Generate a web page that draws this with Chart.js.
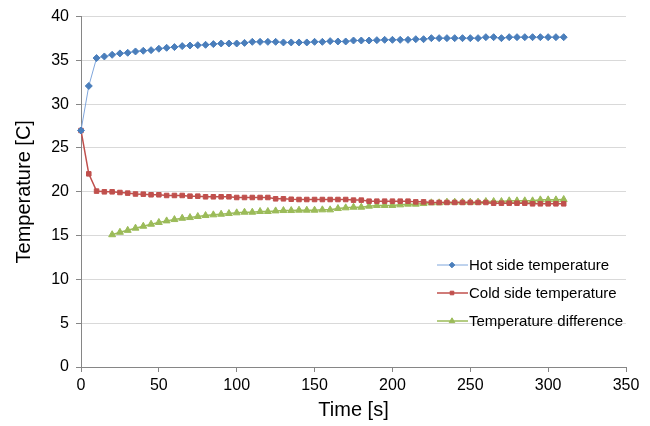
<!DOCTYPE html>
<html>
<head>
<meta charset="utf-8">
<script src="https://cdn.jsdelivr.net/npm/chart.js@4.4.0/dist/chart.umd.min.js"></script>
<style>
  body { margin: 0; background: #fff; }
  #wrap { width: 650px; height: 426px; }
</style>
</head>
<body>
<div id="wrap"><canvas id="tempChart" width="650" height="426"></canvas></div>
<script>
// time in seconds
const times = [
  0, 5, 10, 15, 20, 25, 30, 35, 40, 45,
  50, 55, 60, 65, 70, 75, 80, 85, 90, 95,
  100, 105, 110, 115, 120, 125, 130, 135, 140, 145,
  150, 155, 160, 165, 170, 175, 180, 185, 190, 195,
  200, 205, 210, 215, 220, 225, 230, 235, 240, 245,
  250, 255, 260, 265, 270, 275, 280, 285, 290, 295,
  300, 305, 310
];

const hotSide = [
  27.0, 32.08, 35.27, 35.45, 35.64, 35.8, 35.87, 36.02, 36.1, 36.17,
  36.33, 36.44, 36.52, 36.63, 36.7, 36.74, 36.78, 36.86, 36.93, 36.93,
  36.93, 37.0, 37.12, 37.12, 37.12, 37.12, 37.05, 37.05, 37.05, 37.05,
  37.12, 37.12, 37.2, 37.16, 37.16, 37.27, 37.27, 37.27, 37.31, 37.35,
  37.35, 37.35, 37.35, 37.42, 37.42, 37.54, 37.54, 37.54, 37.54, 37.54,
  37.54, 37.54, 37.65, 37.65, 37.54, 37.65, 37.65, 37.65, 37.65, 37.65,
  37.65, 37.65, 37.65
];

const coldSide = [
  27.0, 22.05, 20.08, 20.0, 20.0, 19.92, 19.85, 19.75, 19.73, 19.66,
  19.66, 19.58, 19.58, 19.58, 19.5, 19.5, 19.43, 19.43, 19.43, 19.43,
  19.35, 19.35, 19.35, 19.35, 19.35, 19.2, 19.2, 19.15, 19.12, 19.12,
  19.12, 19.12, 19.12, 19.12, 19.12, 19.05, 19.05, 18.93, 18.93, 18.93,
  18.93, 18.93, 18.93, 18.85, 18.85, 18.78, 18.78, 18.78, 18.78, 18.78,
  18.78, 18.78, 18.78, 18.7, 18.7, 18.7, 18.7, 18.7, 18.63, 18.63,
  18.63, 18.63, 18.63
];

// difference only logged from 20 s on
const tempDiff = [
  null, null, null, null, 15.1, 15.38, 15.6, 15.85, 16.07, 16.3,
  16.5, 16.68, 16.83, 16.98, 17.06, 17.18, 17.29, 17.37, 17.44, 17.52,
  17.6, 17.67, 17.67, 17.75, 17.75, 17.82, 17.86, 17.86, 17.9, 17.9,
  17.9, 17.94, 17.94, 18.09, 18.17, 18.24, 18.24, 18.36, 18.44, 18.44,
  18.44, 18.51, 18.59, 18.59, 18.66, 18.74, 18.74, 18.82, 18.82, 18.82,
  18.82, 18.82, 18.89, 18.89, 18.89, 18.97, 18.97, 18.97, 18.97, 19.08,
  19.08, 19.08, 19.12
];

const xTicks = [0, 50, 100, 150, 200, 250, 300, 350];
const yTicks = [0, 5, 10, 15, 20, 25, 30, 35, 40];

function toPoints(values) {
  return times.map((t, i) => ({ x: t, y: values[i] }));
}

const seriesInfo = [
  { label: 'Hot side temperature', data: hotSide, line: '#7fa6dc', mark: '#4a7ebb', style: 'rectRot', r: 3.5, lw: 1 },
  { label: 'Cold side temperature', data: coldSide, line: '#c0504d', mark: '#c0504d', style: 'rect', r: 3.2, lw: 1.5 },
  { label: 'Temperature difference', data: tempDiff, line: '#9bbb59', mark: '#9bbb59', style: 'triangle', r: 4, lw: 1.5 }
];

// Legend drawn by hand inside the plot area (like the Excel one)
const insideLegend = {
  id: 'insideLegend',
  afterDraw(chart) {
    const ctx = chart.ctx;
    ctx.save();
    ctx.font = '15px "Liberation Sans", Arial, sans-serif';
    ctx.textBaseline = 'middle';
    ctx.fillStyle = '#000';
    const rows = [265, 293, 321];
    seriesInfo.forEach((s, i) => {
      const y = rows[i];
      ctx.strokeStyle = s.line;
      ctx.lineWidth = s.lw;
      ctx.beginPath();
      ctx.moveTo(437, y);
      ctx.lineTo(468, y);
      ctx.stroke();
      ctx.fillStyle = s.mark;
      ctx.strokeStyle = s.mark;
      ctx.lineWidth = 1;
      Chart.helpers.drawPoint(ctx, { pointStyle: s.style, radius: s.r * 0.8, rotation: 0, borderWidth: 1 }, 452, y);
      ctx.fillStyle = '#000';
      ctx.fillText(s.label, 469, y + 1);
    });
    ctx.restore();
  }
};

const ctx = document.getElementById('tempChart').getContext('2d');
const tickFont = { family: '"Liberation Sans", Arial, sans-serif', size: 16 };
const titleFont = { family: '"Liberation Sans", Arial, sans-serif', size: 20 };

new Chart(ctx, {
  type: 'line',
  data: {
    datasets: seriesInfo.map(s => ({
      label: s.label,
      data: toPoints(s.data),
      borderColor: s.line,
      borderWidth: s.lw,
      backgroundColor: s.mark,
      pointBackgroundColor: s.mark,
      pointBorderColor: s.mark,
      pointBorderWidth: 1,
      pointStyle: s.style,
      pointRadius: s.r,
      tension: 0,
      clip: false,
      spanGaps: false
    }))
  },
  plugins: [insideLegend],
  options: {
    responsive: false,
    animation: false,
    events: [],
    layout: { padding: { left: 0, right: 24, top: 15, bottom: 0 } },
    plugins: {
      legend: { display: false },
      tooltip: { enabled: false }
    },
    scales: {
      x: {
        type: 'linear',
        min: 0,
        max: 350,
        afterBuildTicks: axis => { axis.ticks = xTicks.map(v => ({ value: v })); },
        afterFit: axis => { axis.height = 59; },
        ticks: { color: '#000', font: tickFont, padding: 4, maxRotation: 0 },
        grid: { drawOnChartArea: false, drawTicks: true, tickLength: 5, tickColor: '#868686' },
        border: { color: '#868686', width: 1 },
        title: { display: true, text: 'Time [s]', color: '#000', font: titleFont, padding: { top: 4, bottom: 4 } }
      },
      y: {
        min: 0,
        max: 40,
        afterBuildTicks: axis => { axis.ticks = yTicks.map(v => ({ value: v })); },
        afterFit: axis => { axis.width = 81; },
        ticks: { color: '#000', font: tickFont, padding: 7 },
        grid: { color: '#d9d9d9', lineWidth: 1, drawTicks: true, tickLength: 5, tickColor: '#868686' },
        border: { color: '#868686', width: 1 },
        title: { display: true, text: 'Temperature [C]', color: '#000', font: titleFont, padding: { top: 12, bottom: 4 } }
      }
    }
  }
});
</script>
</body>
</html>
